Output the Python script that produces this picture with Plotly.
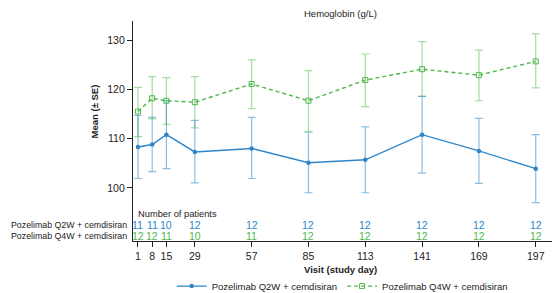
import plotly.graph_objects as go

days = [1, 8, 15, 29, 57, 85, 113, 141, 169, 197]
tick_labels = [str(d) for d in days]

q2w_mean = [108.3, 108.8, 110.8, 107.3, 108.0, 105.1, 105.7, 110.8, 107.5, 103.9]
q2w_upper = [6.4, 5.5, 6.9, 6.4, 6.3, 6.2, 6.7, 7.8, 6.6, 6.9]
q2w_lower = [6.4, 5.5, 6.9, 6.3, 6.1, 6.1, 6.7, 7.8, 6.6, 6.9]

q4w_mean = [115.5, 118.2, 117.7, 117.4, 121.1, 117.7, 121.9, 124.1, 122.9, 125.7]
q4w_upper = [4.9, 4.4, 4.7, 5.2, 4.9, 6.1, 5.3, 5.6, 5.1, 5.6]
q4w_lower = [5.1, 4.2, 4.8, 5.2, 5.0, 6.2, 5.4, 5.5, 5.2, 5.4]

q2w_n = [11, 11, 10, 12, 12, 12, 12, 12, 12, 12]
q4w_n = [12, 12, 11, 10, 11, 12, 12, 12, 12, 12]

name_q2w = "Pozelimab Q2W + cemdisiran"
name_q4w = "Pozelimab Q4W + cemdisiran"

BLUE = "#2E86C9"
BLUE_ERR = "rgba(46,134,201,0.55)"
GREEN = "#4DB84A"
GREEN_ERR = "rgba(77,184,74,0.5)"
FONT = "Liberation Sans, Arial, sans-serif"

fig = go.Figure()
fig.add_trace(go.Scatter(
    x=days, y=q4w_mean, name=name_q4w, mode="lines+markers",
    line=dict(color=GREEN, width=1.4, dash="4px,3px"),
    marker=dict(symbol="square-open", size=5, color=GREEN, line=dict(width=1)),
    error_y=dict(type="data", symmetric=False, array=q4w_upper, arrayminus=q4w_lower,
                 color=GREEN_ERR, thickness=1.2, width=4),
))
fig.add_trace(go.Scatter(
    x=days, y=q2w_mean, name=name_q2w, mode="lines+markers",
    line=dict(color=BLUE, width=1.4),
    marker=dict(symbol="circle", size=4.5, color=BLUE),
    error_y=dict(type="data", symmetric=False, array=q2w_upper, arrayminus=q2w_lower,
                 color=BLUE_ERR, thickness=1.2, width=4),
))

ann = []
ann.append(dict(text="Hemoglobin (g/L)", x=0.477, y=1.035, xref="paper", yref="paper",
                showarrow=False, xanchor="center", yanchor="middle",
                font=dict(size=9.5, color="#222")))
ann.append(dict(text="<b>Mean (± SE)</b>", x=-0.0899, y=0.589, xref="paper", yref="paper",
                showarrow=False, textangle=-90, xanchor="center", yanchor="middle",
                font=dict(size=9.5, color="#222")))
ann.append(dict(text="<b>Visit (study day)</b>", x=0.477, y=-0.13, xref="paper", yref="paper",
                showarrow=False, xanchor="center", yanchor="middle",
                font=dict(size=9.5, color="#222")))
ann.append(dict(text="Number of patients", x=0.007, y=0.121, xref="paper", yref="paper",
                showarrow=False, xanchor="left", yanchor="middle",
                font=dict(size=9.3, color="#222")))
ann.append(dict(text=name_q2w, x=-0.01, y=0.072, xref="paper", yref="paper",
                showarrow=False, xanchor="right", yanchor="middle",
                font=dict(size=8.8, color="#222")))
ann.append(dict(text=name_q4w, x=-0.01, y=0.0216, xref="paper", yref="paper",
                showarrow=False, xanchor="right", yanchor="middle",
                font=dict(size=8.8, color="#222")))
for d, n in zip(days, q2w_n):
    ann.append(dict(text=str(n), x=d, y=0.072, xref="x", yref="paper", showarrow=False,
                    xanchor="center", yanchor="middle", font=dict(size=10.5, color=BLUE)))
for d, n in zip(days, q4w_n):
    ann.append(dict(text=str(n), x=d, y=0.0216, xref="x", yref="paper", showarrow=False,
                    xanchor="center", yanchor="middle", font=dict(size=10.5, color=GREEN)))

fig.update_layout(
    width=560, height=293,
    margin=dict(l=125, r=1, t=13, b=49),
    paper_bgcolor="white", plot_bgcolor="white",
    font=dict(family=FONT, size=10.5, color="#222"),
    showlegend=True,
    legend=dict(orientation="h", x=0.482, y=-0.205, xanchor="center", yanchor="middle",
                font=dict(size=9.5), itemwidth=30, traceorder="reversed",
                bgcolor="rgba(0,0,0,0)"),
    annotations=ann,
    xaxis=dict(range=[-1.46, 212.4], tickmode="array", tickvals=days, ticktext=tick_labels,
               showgrid=False, zeroline=False, showline=True, linecolor="#222", linewidth=1.2,
               ticks="outside", ticklen=5, tickcolor="#222", tickfont=dict(size=10.5)),
    yaxis=dict(range=[89.2, 133.9], tickvals=[100, 110, 120, 130],
               showgrid=False, zeroline=False, showline=True, linecolor="#222", linewidth=1.2,
               ticks="outside", ticklen=5, tickcolor="#222", tickfont=dict(size=10.5)),
)

fig.write_html("out.html")
